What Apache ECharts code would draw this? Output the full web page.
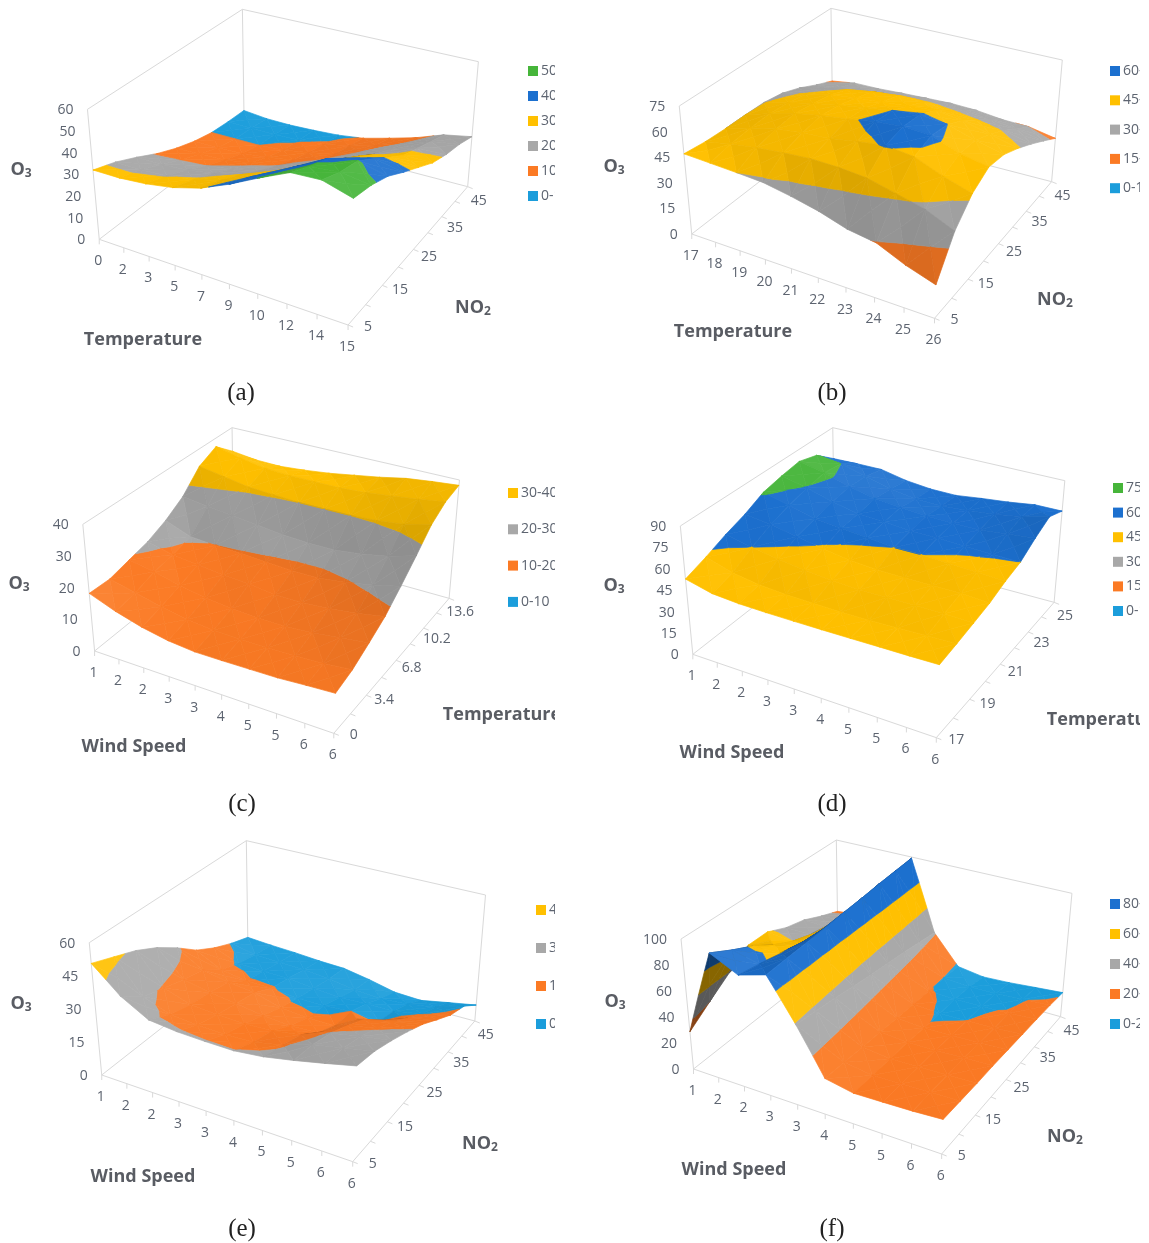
<!DOCTYPE html>
<html><head><meta charset="utf-8">
<style>html,body{margin:0;padding:0;background:#fff}#c{width:1149px;height:1243px}</style>
<script src="https://cdn.jsdelivr.net/npm/echarts@6/dist/echarts.min.js"></script>
</head><body><div id="c"></div>
<script>
// ---- tick labels ----
const tempLabelsA = ['0','2','3','5','7','9','10','12','14','15'];
const tempLabelsB = ['17','18','19','20','21','22','23','24','25','26'];
const windLabels  = ['1','2','2','3','3','4','5','5','6','6'];
const no2Labels   = ['5','15','25','35','45'];
const tempDepthC  = ['0','3.4','6.8','10.2','13.6'];
const tempDepthD  = ['17','19','21','23','25'];
const o3TicksA = [0,10,20,30,40,50,60];
const o3TicksB = [0,15,30,45,60,75];
const o3TicksC = [0,10,20,30,40];
const o3TicksD = [0,15,30,45,60,75,90];
const o3TicksE = [0,15,30,45,60];
const o3TicksF = [0,20,40,60,80,100];
// ---- O3 values: rows = depth axis front to back, columns = x axis ----
const o3A = [
 [32,32,33,35,38.5,44,50.5,56.5,57,53],
 [28.6,28.6,29.4,31.2,34.6,39.8,46,51.8,53,51],
 [24,24,25,27,30,34.5,41,48,50.5,47.5],
 [19,19.5,20,22,24.5,29,34.5,41,44.5,42],
 [15,15.5,16,18,20,24.5,29.5,35,38,37],
 [12,12,12.5,14,16,19.5,24,29,32,32],
 [10,10,10,11,13,15.5,20,24.5,28.5,29],
 [9.3,9,9,9.5,10.5,13,16.5,20.5,25,27],
 [9,7.8,7.6,8,8.7,10.3,13.5,17,21.6,24]];
const o3B = [
 [47,46,45,43.8,40.7,37,32,29.5,22.6,17.5],
 [45.5,48.5,50.5,52,53,52.5,51,47,43,36],
 [45,49.5,53,55,56,58.5,60.5,58.5,52,47],
 [45,50,54,57,59,61.5,63,62,56,52.7],
 [44.7,48.5,52,55,57.5,60,61.5,60,55,51],
 [42.7,46,49.5,51.5,53,54.5,56,54,50,46],
 [38.5,42,45,47.5,49,49,47.5,46,44,40],
 [33,35,37,38.5,40,40.5,40,38.5,36.5,33.5],
 [28.3,30.5,30.6,31.4,32,32.5,32,30.2,29.8,26.7]];
const o3C = [
 [18.2,15,12.6,11,10.2,10.2,10.3,10.4,10.9,11.3],
 [18,16,14,12.5,11.7,11.5,11.5,11.7,12,12.8],
 [19.5,18,16,14.5,13.5,13,13,13.5,14.5,15.5],
 [21,19,18,17,16.5,15.5,15.5,16,17,18.5],
 [23.7,20.5,19.8,19.5,19,18.5,18.5,19.5,21,23],
 [27.6,26.5,25.5,24.5,23.5,23,23,24,25.5,28],
 [34,32.5,31,30.5,30,30,30,30.5,31.5,33.5],
 [37,35,33.5,33,33,33,33.5,34.5,35.5,36.8],
 [31.5,30.4,30.2,30.9,31.9,33.3,34.7,36.4,37.4,38.2]];
const o3D = [
 [52.8,48,46.5,46,45.8,45.7,45.7,45.8,45.8,46],
 [58,52,49,47.5,47,46.5,46.5,47,47.5,48],
 [64,60,56.5,54,52,51,51,51,51,50.3],
 [69,66.5,62.5,59,56,54.5,54,54,54,52.8],
 [75.8,71,66,64,62,60,60,59,58,57],
 [78.8,74.5,69,65,64,62,62,61,60.5,60],
 [81,77,71,67,65,63.5,63,63,65,67],
 [77,75,70,65,62,61.5,63,65,68,72.8],
 [66,66.4,66.4,62.5,60.5,60.3,62.7,64.7,67.4,67.5]];
const o3E = [
 [50.6,39.4,32.4,31,30.5,30.3,31.6,34,36.7,39.6],
 [46.8,32,27.5,26.5,26,26.5,29,33,35.5,38],
 [43,29,25,24,23.5,24,26,30.5,33,34.9],
 [37.8,26,23.5,22,20,19,19.5,26.5,29,31.3],
 [31.2,24,21.5,20,16.5,15.5,15.5,22,24.5,27.2],
 [23.7,17.5,15.5,15.3,14,14,15,14,19,22],
 [18.5,14,13.5,13.5,12,11,11.5,11.5,14,17],
 [14.5,12,11.5,11,10,8,7,8,10,14],
 [11.4,10.5,9.9,9,8.5,6.3,3.5,2.9,5.3,7.6]];
const o3F = [
 [28.7,95,84,90,59,26,22,22.4,22.9,24],
 [40,86,81,91,57,25,22,22.5,23,23.5],
 [51,78,78,92,55,24,21.5,22,22.5,23],
 [62,68,74,93,52.5,23,21.5,21.5,22.5,23],
 [62,60,70,94.5,50,22,20.2,20.6,21.5,22.5],
 [55,55,70,95.5,48,21,19.7,20,20.6,22],
 [51,50,71,97,46,20.2,19.4,19.7,20.2,21.5],
 [44,45,72,98,43.5,19.5,18,18.5,19.8,20.8],
 [38,40,73,99,41,18,15,16,17.8,19.5]];
// ---- band palette ----
const bandColors = ['#1b9ddb','#fb7a24','#a8a8a8','#ffc000','#1c70cf','#46b53a'];

// ---- panel layout (page geometry of each 3-D box) ----
const SX = 0.357, SY = 1/3;
function box(ox, oy, c){ const m = p => [ox + p[0]*SX, oy + p[1]*SY];
  return {lb:m(c[0]), fb:m(c[1]), rb:m(c[2]), bb:m(c[3]), lt:m(c[4]), ft:m(c[5]), rt:m(c[6]), bt:m(c[7])}; }
const panels = [
 {id:'(a)', z:o3A, xl:tempLabelsA, dl:no2Labels, zt:o3TicksA, step:10, bands:6, xt:'Temperature', dt:['NO','2'],
  b:box(0,0,[[278,718],[975,975],[1310,560],[684,385],[245,328],[992,545],[1340,185],[679,28]]),
  grid:[0,0], o3:[21,170], xp:[143,340], dp:[473,308], cap:[241,392], lg:[528,71,25]},
 {id:'(b)', z:o3B, xl:tempLabelsB, dl:no2Labels, zt:o3TicksB, step:15, bands:5, xt:'Temperature', dt:['NO','2'],
  b:box(590,0,[[285,702],[965,955],[1293,545],[680,375],[250,318],[982,525],[1323,180],[675,25]]),
  grid:[575,0], o3:[614,167], xp:[733,332], dp:[1055,300], cap:[832,392], lg:[1110,71,29.3]},
 {id:'(c)', z:o3C, xl:windLabels, dl:tempDepthC, zt:o3TicksC, step:10, bands:4, xt:'Wind Speed', dt:['Temperature'],
  b:box(0,415,[[265,708],[935,955],[1258,550],[655,370],[232,328],[952,530],[1287,195],[650,38]]),
  grid:[0,415], o3:[19,584], xp:[134,747], dp:[502,715], cap:[242,803], lg:[508,493,36.3]},
 {id:'(d)', z:o3D, xl:windLabels, dl:tempDepthD, zt:o3TicksD, step:15, bands:6, xt:'Wind Speed', dt:['Temperature'],
  b:box(590,415,[[288,718],[970,968],[1300,562],[685,385],[253,333],[987,540],[1330,197],[680,38]]),
  grid:[575,415], o3:[614,586], xp:[732,753], dp:[1106,720], cap:[832,803], lg:[1113,488,24.6]},
 {id:'(e)', z:o3E, xl:windLabels, dl:no2Labels, zt:o3TicksE, step:15, bands:4, xt:'Wind Speed', dt:['NO','2'],
  b:box(0,830,[[285,735],[988,995],[1330,573],[695,390],[250,338],[1005,560],[1360,195],[690,32]]),
  grid:[0,830], o3:[21,1004], xp:[143,1177], dp:[480,1144], cap:[242,1228], lg:[536,910,38]},
 {id:'(f)', z:o3F, xl:windLabels, dl:no2Labels, zt:o3TicksF, step:20, bands:5, xt:'Wind Speed', dt:['NO','2'],
  b:box(590,830,[[290,717],[985,972],[1318,560],[695,375],[255,327],[1002,540],[1350,190],[690,30]]),
  grid:[575,830], o3:[615,1002], xp:[734,1170], dp:[1065,1137], cap:[832,1228], lg:[1110,904,30]}
];

// ---- projection: perspective floor and ceiling, height interpolated between them ----
function homography(p0,p1,p2,p3){
  const dx1=p1[0]-p2[0],dx2=p3[0]-p2[0],sx=p0[0]-p1[0]+p2[0]-p3[0];
  const dy1=p1[1]-p2[1],dy2=p3[1]-p2[1],sy=p0[1]-p1[1]+p2[1]-p3[1];
  const den=dx1*dy2-dx2*dy1, g=(sx*dy2-dx2*sy)/den, h=(dx1*sy-sx*dy1)/den;
  const a=p1[0]-p0[0]+g*p1[0], b=p3[0]-p0[0]+h*p3[0], c=p0[0];
  const d=p1[1]-p0[1]+g*p1[1], e=p3[1]-p0[1]+h*p3[1], f=p0[1];
  return (u,v)=>{const w=g*u+h*v+1; return [(a*u+b*v+c)/w,(d*u+e*v+f)/w];};
}
panels.forEach(p=>{
  const B=p.b, floor=homography(B.lb,B.fb,B.rb,B.bb), top=homography(B.lt,B.ft,B.rt,B.bt);
  p.nu=p.z[0].length-1; p.nv=p.z.length-1; p.zmax=p.step*p.bands;
  p.proj=(u,v,z)=>{const a=floor(u/p.nu,v/p.nv),c=top(u/p.nu,v/p.nv),t=z/p.zmax;
    return [a[0]+(c[0]-a[0])*t,a[1]+(c[1]-a[1])*t];};
  // facets: every grid cell is cut into four triangles around its centre
  const tris=[];
  for(let v=0;v<p.nv;v++)for(let u=0;u<p.nu;u++){
    const q=[[u,v,p.z[v][u]],[u+1,v,p.z[v][u+1]],[u+1,v+1,p.z[v+1][u+1]],[u,v+1,p.z[v+1][u]]];
    const m=[u+.5,v+.5,(q[0][2]+q[1][2]+q[2][2]+q[3][2])/4];
    for(let k=0;k<4;k++){const A=q[k],C=q[(k+1)%4];
      tris.push({v:[A,C,m],key:(A[0]+C[0]+m[0])/3/p.nu-(A[1]+C[1]+m[1])/3/p.nv});}
  }
  tris.sort((a,b)=>a.key-b.key).forEach((t,i)=>t.rank=i+1);
  p.tris=tris;
});

function clipZ(poly,lim,keepAbove){
  const out=[];
  for(let i=0;i<poly.length;i++){
    const a=poly[i],b=poly[(i+1)%poly.length];
    const ia=keepAbove?a[2]>=lim:a[2]<=lim, ib=keepAbove?b[2]>=lim:b[2]<=lim;
    if(ia)out.push(a);
    if(ia!==ib){const t=(lim-a[2])/(b[2]-a[2]);out.push([a[0]+(b[0]-a[0])*t,a[1]+(b[1]-a[1])*t,lim]);}
  }
  return out;
}
function area(pts){let s=0;pts.forEach((a,i)=>{const b=pts[(i+1)%pts.length];s+=a[0]*b[1]-b[0]*a[1];});return s;}
function shade(hex,f){
  const n=parseInt(hex.slice(1),16),c=[n>>16,(n>>8)&255,n&255];
  return 'rgb('+c.map(x=>Math.round(f<=1?x*f:x+(255-x)*(f-1)*1.6)).join(',')+')';
}
const LIGHT=[.55,.3,.77];
function facetFactor(p,t){
  const W=t.v.map(a=>[a[0]/p.nu,a[1]/p.nv,a[2]/p.zmax*.6]);
  const e1=[W[1][0]-W[0][0],W[1][1]-W[0][1],W[1][2]-W[0][2]],e2=[W[2][0]-W[0][0],W[2][1]-W[0][1],W[2][2]-W[0][2]];
  let n=[e1[1]*e2[2]-e1[2]*e2[1],e1[2]*e2[0]-e1[0]*e2[2],e1[0]*e2[1]-e1[1]*e2[0]];
  const L=Math.hypot(n[0],n[1],n[2]);n=n.map(x=>x/L);if(n[2]<0)n=n.map(x=>-x);
  let f=1+.32*(n[0]*LIGHT[0]+n[1]*LIGHT[1]+n[2]*LIGHT[2]-.77);
  f=Math.min(1.05,Math.max(.8,f));
  const s=area(t.v.map(a=>p.proj(a[0],a[1],a[2]))),s0=area(t.v.map(a=>p.proj(a[0],a[1],0)));
  if(s*s0<0)f*=.66;
  return f;
}

const FONT='"Open Sans",sans-serif', LINE='#d9d9d9', TICK='#5d6470', TITLE='#595c63';
function axesRender(p){return function(params,api){
  const C=q=>api.coord(q), B=p.b, ch=[];
  const line=(a,b)=>{const s=C(a),e=C(b);ch.push({type:'line',shape:{x1:s[0],y1:s[1],x2:e[0],y2:e[1]},style:{stroke:LINE,lineWidth:1}});};
  line(B.lb,B.lt);line(B.lt,B.bt);line(B.bt,B.bb);line(B.bt,B.rt);line(B.rt,B.rb);
  line(B.lb,B.bb);line(B.bb,B.rb);line(B.lb,B.fb);line(B.fb,B.rb);
  const label=(txt,q,align,extra)=>{const s=C(q);ch.push({type:'text',style:Object.assign({text:txt,x:s[0],y:s[1],align:align||'center',verticalAlign:'middle',fill:TICK,font:'14px '+FONT},extra||{})});};
  p.zt.forEach(z=>{const a=p.proj(0,0,z);label(String(z),[a[0]-14,a[1]+1],'right');});
  p.xl.forEach((t,i)=>{const a=p.proj(i,0,0);line(a,[a[0],a[1]+5]);label(t,[a[0]-1,a[1]+22]);});
  for(let v=0;v<=p.nv;v++){const a=p.proj(p.nu,v,0);line(a,[a[0]+5,a[1]+2]);
    if(v%2===0){const t=v/p.nv;label(p.dl[v/2],[a[0]+20-9*t,a[1]+2+12*t]);}}
  const bold='bold 18px '+FONT;
  label(p.xt,p.xp,'center',{font:bold,fill:TITLE});
  const rich={m:{font:bold,fill:TITLE},s:{font:'bold 12px '+FONT,fill:TITLE,padding:[7,0,0,0]}};
  if(p.dt.length>1)label('{m|NO}{s|2}',p.dp,'center',{rich});
  else label(p.dt[0],p.dp,'center',{font:bold,fill:TITLE});
  label('{m|O}{s|3}',p.o3,'center',{rich});
  label(p.id,[p.cap[0],p.cap[1]+1],'center',{font:'25px "Liberation Serif",serif',fill:'#222'});
  return {type:'group',children:ch};
};}
function bandRender(p,k){const lo=k*p.step,hi=lo+p.step,col=bandColors[k];
  return function(params,api){
    const t=p.tris[api.value(2)];
    const poly=clipZ(clipZ(t.v,lo,true),hi,false);
    if(poly.length<3)return null;
    const f=shade(col,facetFactor(p,t));
    return {type:'polygon',z2:t.rank,shape:{points:poly.map(a=>api.coord(p.proj(a[0],a[1],a[2])))},
      style:{fill:f,stroke:f,lineWidth:.7}};
  };}

const grids=[],xAxes=[],yAxes=[],series=[],legends=[];
panels.forEach((p,i)=>{
  const W=574,H=413;
  grids.push({left:p.grid[0],top:p.grid[1],width:W,height:H});
  xAxes.push({type:'value',gridIndex:i,min:p.grid[0],max:p.grid[0]+W,show:false});
  yAxes.push({type:'value',gridIndex:i,min:p.grid[1],max:p.grid[1]+H,inverse:true,show:false});
  series.push({type:'custom',name:'axes'+i,xAxisIndex:i,yAxisIndex:i,z:1,silent:true,clip:false,animation:false,
    data:[[p.grid[0],p.grid[1]]],encode:{x:0,y:1},renderItem:axesRender(p)});
  const names=[];
  for(let k=0;k<p.bands;k++){
    const lo=k*p.step,hi=lo+p.step,name=lo+'-'+hi,data=[];
    names.unshift(name);
    p.tris.forEach((t,id)=>{const zs=t.v.map(a=>a[2]);
      if(Math.max.apply(null,zs)>=lo&&Math.min.apply(null,zs)<=hi){
        const q=p.proj(t.v[2][0],t.v[2][1],t.v[2][2]);data.push([q[0],q[1],id]);}});
    series.push({type:'custom',name,xAxisIndex:i,yAxisIndex:i,z:2,silent:true,clip:false,animation:false,progressive:0,
      itemStyle:{color:bandColors[k]},data,encode:{x:0,y:1},renderItem:bandRender(p,k)});
  }
  legends.push({data:names,orient:'vertical',left:p.lg[0],top:p.lg[1]-7,icon:'rect',itemWidth:10,itemHeight:10,
    itemGap:p.lg[2]-14,selectedMode:false,padding:0,z:4,textStyle:{color:TICK,fontSize:14,lineHeight:14,fontFamily:'Open Sans',padding:[0,0,0,-2]}});
});

const chart=echarts.init(document.getElementById('c'),null,{renderer:'canvas'});
chart.setOption({backgroundColor:'#fff',animation:false,tooltip:{show:false},
  grid:grids,xAxis:xAxes,yAxis:yAxes,legend:legends,series,
  graphic:[ // the source panels are cropped on their right side
    {type:'rect',z:100,silent:true,shape:{x:555,y:0,width:40,height:1243},style:{fill:'#fff'}},
    {type:'rect',z:100,silent:true,shape:{x:1140,y:0,width:9,height:1243},style:{fill:'#fff'}}
  ]});
</script></body></html>
